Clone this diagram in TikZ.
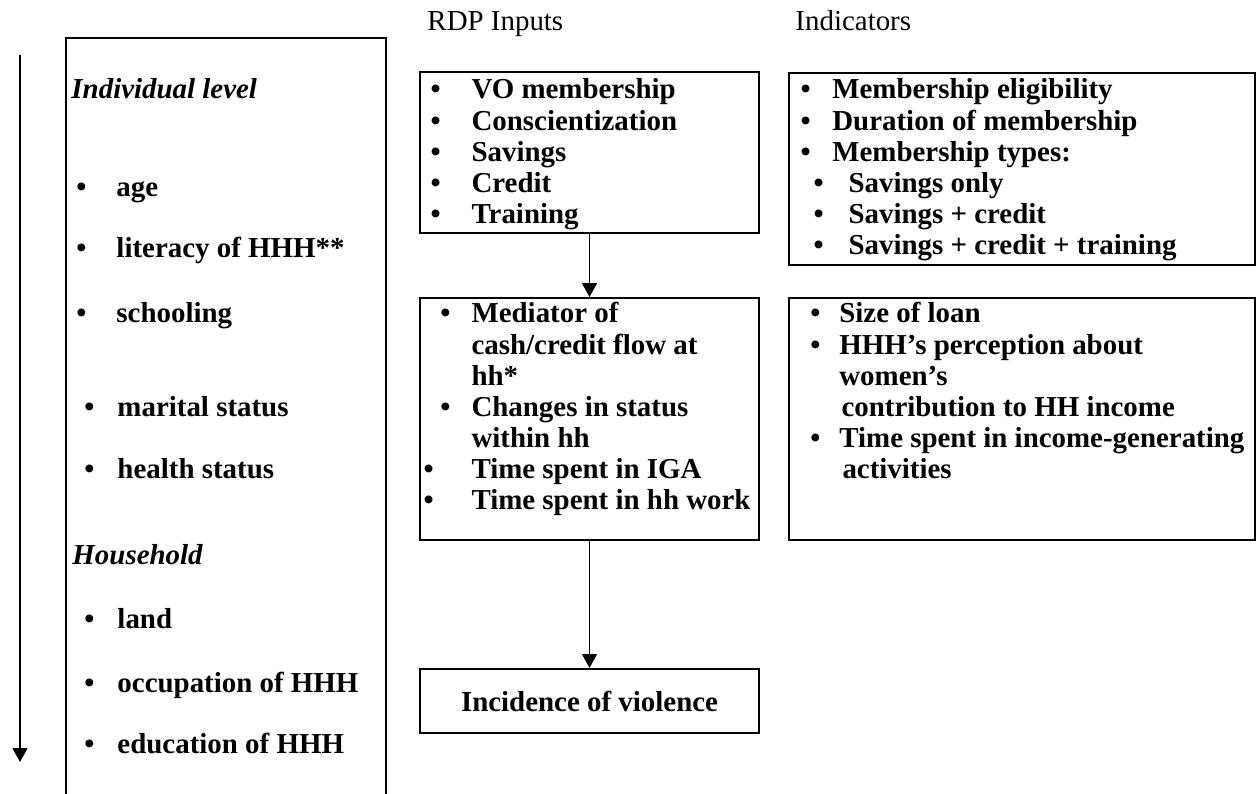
\documentclass[tikz,border=0pt]{standalone}
\usepackage{fontspec}
\setmainfont{Liberation Serif}
\usetikzlibrary{arrows.meta}

% bullet in a box of fixed width, shifted by #1
\newcommand{\blt}[2]{\makebox[#2][l]{\hspace{#1}\textbullet}}

\begin{document}
\begin{tikzpicture}[
  x=0.415pt,
  y=-0.415pt,
  >={Triangle[width=6.2pt,length=5.8pt]},
  box/.style={
    rectangle,
    draw=black,
    line width=0.8pt,
    inner sep=0pt,
    minimum width=140.7pt
  },
  ibox/.style={
    box,
    minimum width=193.4pt
  },
  lst/.style={
    anchor=base west,
    inner sep=0pt,
    font=\fontsize{12}{12.9}\selectfont\bfseries
  },
  hdr/.style={
    anchor=base west,
    inner sep=0pt,
    font=\fontsize{12}{12.9}\selectfont
  },
  arr/.style={
    ->,
    line width=0.55pt
  }
]

\useasboundingbox (0,0) rectangle (1260,794);

% column of background factors
\draw[line width=0.7pt] (66,794) -- (66,38) -- (386,38) -- (386,794);
\coordinate (top) at (20,55);
\coordinate (bot) at (20,762);
\draw[arr, line width=0.75pt] (top) -- (bot);

\node[lst, font=\fontsize{12}{12.9}\selectfont\bfseries\itshape] (indiv) at (71,99) {Individual level};
\node[lst] (age) at (76,197) {\blt{0pt}{16.6pt}age};
\node[lst] (lit) at (76,258) {\blt{0pt}{16.6pt}literacy of HHH**};
\node[lst] (sch) at (76,323) {\blt{0pt}{16.6pt}schooling};
\node[lst] (mar) at (84,417) {\blt{0pt}{13.7pt}marital status};
\node[lst] (hea) at (84,479) {\blt{0pt}{13.7pt}health status};
\node[lst, font=\fontsize{12}{12.9}\selectfont\bfseries\itshape] (hhold) at (72,565) {Household};
\node[lst] (land) at (84,629) {\blt{0pt}{13.7pt}land};
\node[lst] (occ) at (84,693) {\blt{0pt}{13.7pt}occupation of HHH};
\node[lst] (edu) at (84,754) {\blt{0pt}{13.7pt}education of HHH};

% headings
\node[hdr] (hin) at (427,31) {RDP Inputs};
\node[hdr] (hind) at (795,31) {Indicators};

% RDP inputs
\node[box, minimum height=66.8pt] (inp) at (589.5,152.5) {};
\node[box, minimum height=100.4pt] (med) at (589.5,419) {};
\node[box, minimum height=26.6pt, font=\fontsize{12}{12.9}\selectfont\bfseries] (vio) at (589.5,701) {Incidence of violence};

\node[lst] (inptxt) at (419,99) {%
  \begin{tabular}[t]{@{}l@{}}
  \blt{4.6pt}{21.6pt}VO membership\\
  \blt{4.6pt}{21.6pt}Conscientization\\
  \blt{4.6pt}{21.6pt}Savings\\
  \blt{4.6pt}{21.6pt}Credit\\
  \blt{4.6pt}{21.6pt}Training
  \end{tabular}};

\node[lst] (medtxt) at (419,323) {%
  \begin{tabular}[t]{@{}l@{}}
  \blt{8.7pt}{21.6pt}Mediator of\\
  \hspace{21.6pt}cash/credit flow at\\
  \hspace{21.6pt}hh*\\
  \blt{8.7pt}{21.6pt}Changes in status\\
  \hspace{21.6pt}within hh\\
  \blt{1.7pt}{21.6pt}Time spent in IGA\\
  \blt{1.7pt}{21.6pt}Time spent in hh work
  \end{tabular}};

% indicators
\node[ibox, minimum height=79.7pt] (mem) at (1022,169) {};
\node[ibox, minimum height=100.4pt] (loan) at (1022,419) {};

\node[lst] (memtxt) at (789,99) {%
  \begin{tabular}[t]{@{}l@{}}
  \blt{4.6pt}{17.8pt}Membership eligibility\\
  \blt{4.6pt}{17.8pt}Duration of membership\\
  \blt{4.6pt}{17.8pt}Membership types:\\
  \blt{10pt}{24.5pt}Savings only\\
  \blt{10pt}{24.5pt}Savings + credit\\
  \blt{10pt}{24.5pt}Savings + credit + training
  \end{tabular}};

\node[lst] (loantxt) at (789,323) {%
  \begin{tabular}[t]{@{}l@{}}
  \blt{8.7pt}{20.7pt}Size of loan\\
  \blt{8.7pt}{20.7pt}HHH’s perception about\\
  \hspace{20.7pt}women’s\\
  \hspace{21.6pt}contribution to HH income\\
  \blt{8.7pt}{20.7pt}Time spent in income-generating\\
  \hspace{22pt}activities
  \end{tabular}};

\draw[arr] (inp.south) -- (med.north);
\draw[arr] (med.south) -- (vio.north);

\end{tikzpicture}
\end{document}
